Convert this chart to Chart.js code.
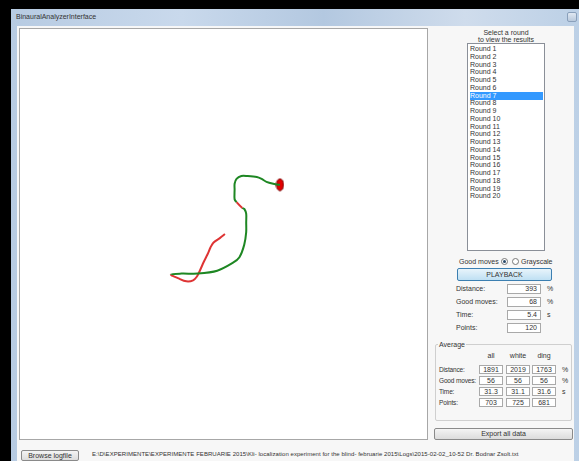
<!DOCTYPE html>
<html>
<head>
<meta charset="utf-8">
<script src="https://cdn.jsdelivr.net/npm/chart.js@4/dist/chart.umd.min.js"></script>
<style>
  html, body { margin: 0; padding: 0; }
  body { width: 579px; height: 461px; background: #000; position: relative; overflow: hidden;
         font-family: "Liberation Sans", Arial, sans-serif; font-size: 7px; color: #333; }
  .abs { position: absolute; }
  .frame { left: 11px; top: 9px; width: 568px; height: 452px;
           background: linear-gradient(90deg, #b7cbe2 0%, #c9d9ec 30%, #b3c8e0 55%, #cfdcec 80%, #bcd0e6 100%); }
  .title { left: 16px; top: 13px; font-size: 7px; color: #333; }
  .closebtn { left: 567px; top: 12px; width: 8px; height: 8px; border: 1px solid #8aa0bb;
              background: linear-gradient(#e0e8f2, #b9c9dc); border-radius: 2px; }
  .client { left: 17px; top: 26px; width: 557px; height: 435px; background: #f7f7f7; }
  .plotbox { left: 19px; top: 28px; width: 409px; height: 412px; background: #fff;
             border: 1px solid #a7a7a7; box-sizing: border-box; }
  .list { left: 467px; top: 43px; width: 78px; height: 208px; background: #fff;
          border: 1px solid #8a8f98; box-sizing: border-box; }
  .item { position: absolute; left: 2px; width: 73px; height: 8px; line-height: 8px; }
  .sel { background: #3399ff; color: #fff; }
  .btn { border: 1px solid #8a8a8a; border-radius: 2px; box-sizing: border-box; text-align: center;
         background: linear-gradient(#f4f4f4, #dcdcdc); }
  .btn.blue { border-color: #3c7fb1; background: linear-gradient(#e8f4fb, #bfe0f3); }
  .box { background: #fff; border: 1px solid #a9a9a9; box-sizing: border-box; text-align: right;
         padding-right: 3px; height: 10px; line-height: 8px; }
  .radio { width: 7px; height: 7px; border: 1px solid #777; border-radius: 50%; background: #fff; box-sizing: border-box; }
  .radio.on::after { content: ""; position: absolute; left: 1px; top: 1px; width: 3px; height: 3px; border-radius: 50%; background: #2a4a6a; }
  .group { left: 435px; top: 344px; width: 137px; height: 77px; border: 1px solid #cfcfcf; border-radius: 2px; box-sizing: border-box; }
</style>
</head>
<body>
<div class="abs frame"></div>
<div class="abs title">BinauralAnalyzerInterface</div>
<div class="abs closebtn"></div>
<div class="abs client"></div>
<div class="abs plotbox"><canvas id="track" width="407" height="410"></canvas></div>

<div class="abs" style="left:467px;top:29px;width:78px;text-align:center;line-height:7px;">Select a round<br>to view the results</div>
<div class="abs list" id="rounds"></div>

<div class="abs" style="left:459px;top:258px;">Good moves</div>
<div class="abs radio on" style="left:501px;top:258px;"></div>
<div class="abs radio" style="left:512px;top:258px;"></div>
<div class="abs" style="left:521px;top:258px;">Grayscale</div>
<div class="abs btn blue" style="left:457px;top:268px;width:95px;height:13px;line-height:11px;">PLAYBACK</div>
<div id="roundStats"></div>

<div class="abs group"></div>
<div class="abs" style="left:438px;top:341px;background:#f7f7f7;padding:0 1px;">Average</div>
<div id="avgStats"></div>

<div class="abs btn" style="left:434px;top:428px;width:139px;height:12px;line-height:10px;">Export all data</div>
<div class="abs btn" style="left:21px;top:450px;width:58px;height:11px;line-height:9px;">Browse logfile</div>
<div class="abs" id="path" style="left:92px;top:451px;white-space:nowrap;font-size:6px;letter-spacing:0.05px;">E:\D\EXPERIMENTE\EXPERIMENTE FEBRUARIE 2015\Kli- localization experiment for the blind- februarie 2015\Logs\2015-02-02_10-52 Dr. Bodnar Zsolt.txt</div>

<script>
// trajectory of the selected round, in plot-box units (x right, y down)
const trackX = [205, 200, 193, 190, 187, 183, 179, 176, 172, 165, 157, 149,
                160, 177, 197, 213, 220, 225, 227, 227, 227, 225, 223, 217,
                215, 215, 215, 217, 222, 228, 238, 243, 248, 255, 261, 262];
const trackY = [205, 209, 214, 219, 226, 234, 243, 249, 253, 254, 251, 247,
                246, 246, 243, 235, 229, 216, 203, 193, 184, 179, 178, 172,
                169, 159, 153, 148, 145, 145, 146, 148, 151, 153, 154, 154];
// 1 = good move (green), 0 = bad move (red), one flag per segment start
const goodMove = [0, 0, 0, 0, 0, 0, 0, 0, 0, 0, 0, 1,
                  1, 1, 1, 1, 1, 1, 1, 1, 1, 1, 0, 1,
                  1, 1, 1, 1, 1, 1, 1, 1, 1, 1, 1, 1];
const targetX = [262];
const targetY = [154];

const roundNames = Array.from({ length: 20 }, (_, i) => 'Round ' + (i + 1));
const selectedRound = 6;

const statLabels = ['Distance:', 'Good moves:', 'Time:', 'Points:'];
const statUnits = ['%', '%', 's', ''];
const roundValues = ['393', '68', '5.4', '120'];
const avgColumns = ['all', 'white', 'ding'];
const avgAll = ['1891', '56', '31.3', '703'];
const avgWhite = ['2019', '56', '31.1', '725'];
const avgDing = ['1763', '56', '31.6', '681'];

// ---- side panel ----
const list = document.getElementById('rounds');
roundNames.forEach((name, i) => {
    const el = document.createElement('div');
    el.className = 'item' + (i === selectedRound ? ' sel' : '');
    el.style.top = (1 + i * 7.75) + 'px';
    el.textContent = name;
    list.appendChild(el);
});

function addText(parent, text, left, top, extra) {
    const el = document.createElement('div');
    el.className = 'abs' + (extra ? ' ' + extra : '');
    el.style.left = left + 'px';
    el.style.top = top + 'px';
    el.textContent = text;
    parent.appendChild(el);
    return el;
}

const rs = document.getElementById('roundStats');
const rowTops = [284, 297, 310, 323];
statLabels.forEach((label, i) => {
    addText(rs, label, 456, rowTops[i] + 1);
    const b = addText(rs, roundValues[i], 507, rowTops[i], 'box');
    b.style.width = '34px';
    addText(rs, statUnits[i], 547, rowTops[i] + 1);
});

const av = document.getElementById('avgStats');
const colLeft = [479, 506, 532];
avgColumns.forEach((c, j) => {
    const el = addText(av, c, colLeft[j], 352);
    el.style.width = '24px';
    el.style.textAlign = 'center';
});
const avgTops = [365, 376, 387, 398];
const cols = [avgAll, avgWhite, avgDing];
statLabels.forEach((label, i) => {
    const l = addText(av, label, 439, avgTops[i] + 1);
    l.style.fontSize = '6.5px';
    l.style.letterSpacing = '-0.15px';
    cols.forEach((col, j) => {
        const b = addText(av, col[i], colLeft[j], avgTops[i], 'box');
        b.style.width = '24px';
        b.style.height = '9px';
        b.style.textAlign = 'center';
        b.style.paddingRight = '0';
    });
    addText(av, statUnits[i], 562, avgTops[i] + 1);
});

// ---- trajectory chart ----
const GREEN = 'rgb(30,135,35)';
const RED = 'rgb(222,52,52)';

const dot = document.createElement('canvas');
dot.width = 9; dot.height = 14;
const dctx = dot.getContext('2d');
dctx.beginPath();
dctx.ellipse(4.5, 7, 3.6, 6, 0, 0, Math.PI * 2);
dctx.fillStyle = 'rgb(225,0,0)';
dctx.fill();
dctx.lineWidth = 1;
dctx.strokeStyle = 'rgb(120,0,0)';
dctx.stroke();

new Chart(document.getElementById('track'), {
    type: 'scatter',
    data: {
        datasets: [
            {
                data: trackX.map((x, i) => ({ x: x, y: trackY[i] })),
                showLine: true,
                pointRadius: 0,
                borderWidth: 2,
                borderColor: GREEN,
                tension: 0.3,
                segment: {
                    borderColor: ctx => goodMove[ctx.p0DataIndex] ? GREEN : RED
                }
            },
            {
                data: targetX.map((x, i) => ({ x: x, y: targetY[i] })),
                pointStyle: dot,
                pointRadius: 6
            }
        ]
    },
    options: {
        responsive: false,
        animation: false,
        layout: { padding: 0 },
        plugins: { legend: { display: false }, tooltip: { enabled: false } },
        scales: {
            x: { display: false, min: 0, max: 407 },
            y: { display: false, min: 0, max: 410, reverse: true }
        }
    }
});
</script>
</body>
</html>
